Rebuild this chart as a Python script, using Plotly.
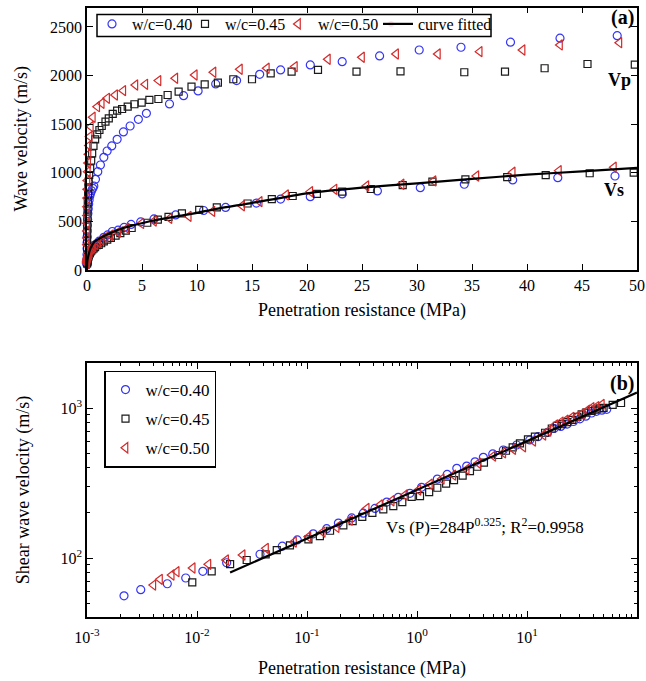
import plotly.graph_objects as go

# ---------------- data ----------------
# Shear wave velocity Vs vs penetration resistance P (MPa)
p40_vs = [0.00217, 0.00308, 0.00537, 0.0079, 0.0113, 0.0186, 0.0374, 0.0596, 0.0816, 0.114,
          0.151, 0.193, 0.255, 0.325, 0.415, 0.531, 0.676, 0.863, 1.10, 1.53, 1.88, 2.30, 2.83,
          3.37, 4.01, 4.88, 6.09, 8.06, 10.6, 12.6, 15.4, 17.6, 20.3, 23.2, 26.4, 30.3, 34.3,
          38.7, 42.8, 48.0, 53.1]
vs40 = [56, 61.5, 67.4, 73.6, 81.5, 93, 106, 120, 132, 145, 157, 171, 185, 199, 214, 236, 254,
        270, 296, 336, 361, 396, 410, 438, 469, 494, 525, 567, 612, 644, 688, 730, 754, 782, 813,
        847, 882, 926, 950, 967, 980]

p45_vs = [0.00906, 0.0136, 0.0200, 0.0283, 0.0421, 0.0531, 0.070, 0.103, 0.131, 0.162, 0.214,
          0.260, 0.318, 0.393, 0.494, 0.609, 0.735, 0.895, 1.065, 1.29, 1.53, 1.84, 2.17, 2.60,
          3.03, 3.53, 4.06, 5.48, 6.44, 7.41, 8.63, 10.2, 11.8, 14.6, 16.8, 18.7, 20.9, 23.2,
          25.8, 28.7, 31.4, 34.4, 38.2, 41.7, 45.7, 49.7, 60.1, 71.6]
vs45 = [68.9, 81.5, 91.2, 97.0, 105.9, 113, 121.6, 133, 140, 152, 165, 176, 188, 200, 211, 222,
        236, 256, 259, 275, 294, 313, 331, 354, 380, 406, 432, 486, 519, 547, 582, 618, 644, 684,
        730, 761, 782, 806, 833, 874, 908, 933, 955, 975, 995, 1001, 1050, 1080]

p50_vs = [0.00401, 0.00461, 0.00589, 0.00654, 0.00914, 0.0127, 0.0184, 0.026, 0.0424, 0.0762,
          0.103, 0.139, 0.186, 0.246, 0.349, 0.461, 0.589, 0.778, 1.03, 1.31, 1.68, 2.14, 2.83,
          3.61, 4.94, 6.09, 7.5, 9.25, 11.4, 14.1, 15.7, 18.1, 20.3, 22.5, 25.4, 28.6, 31.5,
          35.4, 38.7, 42.9, 47.9]
vs50 = [66, 72.1, 77.1, 81.1, 85.8, 90.8, 97.0, 104.7, 116, 128, 138.7, 149, 160, 179, 214, 226,
        241, 263, 284, 311, 336, 357, 390, 428, 479, 503, 531, 552, 603, 661, 703, 772, 806, 830,
        864, 882, 916, 967, 1005, 1022, 1057]

# Compression wave velocity Vp vs penetration resistance P (MPa)
p40_vp = [0.00217, 0.00308, 0.00537, 0.0079, 0.0113, 0.0186, 0.0374, 0.0596, 0.0816, 0.114,
          0.151, 0.193, 0.255, 0.325, 0.415, 0.531, 0.62, 0.77, 0.98, 1.22, 1.53, 1.83, 2.25,
          2.74, 3.31, 3.92, 4.67, 5.4, 7.5, 8.78, 10.1, 11.7, 13.6, 15.7, 17.6, 20.3, 23.2, 26.6,
          30.2, 34.0, 38.5, 43.0, 48.2]
vp40 = [110, 160, 220, 280, 340, 400, 460, 520, 580, 630, 680, 720, 760, 790, 815, 840, 864, 933,
        1011, 1080, 1159, 1224, 1276, 1344, 1420, 1481, 1550, 1612, 1708, 1793, 1842, 1914, 1948,
        2013, 2058, 2109, 2143, 2202, 2263, 2291, 2343, 2384, 2410]

p45_vp = [0.00906, 0.0136, 0.0200, 0.0283, 0.0421, 0.0531, 0.070, 0.103, 0.131, 0.15, 0.2, 0.29,
          0.38, 0.47, 0.59, 0.74, 0.93, 1.13, 1.34, 1.68, 1.98, 2.34, 2.74, 3.19, 3.7, 4.31, 4.97,
          5.67, 6.49, 7.33, 8.33, 9.5, 10.7, 11.9, 13.3, 15.0, 16.7, 18.6, 21.0, 24.5, 28.5, 34.3,
          38.0, 41.6, 45.5, 49.8]
vp45 = [230, 300, 380, 460, 540, 620, 700, 780, 850, 908, 977, 1046, 1124, 1200, 1276, 1344, 1396,
        1440, 1481, 1526, 1560, 1605, 1639, 1656, 1680, 1705, 1721, 1749, 1759, 1800, 1834, 1886,
        1910, 1927, 1962, 1962, 2023, 2040, 2058, 2040, 2044, 2034, 2040, 2075, 2119, 2112]

p50_vp = [0.00401, 0.00461, 0.00589, 0.00654, 0.00914, 0.0127, 0.0184, 0.026, 0.0424, 0.0762,
          0.103, 0.139, 0.186, 0.246, 0.349, 0.53, 0.93, 1.34, 1.83, 2.56, 3.3, 4.4, 5.3, 6.5,
          8.03, 9.8, 11.5, 13.9, 16.35, 18.9, 21.9, 25.0, 28.1, 31.9, 35.7, 39.6, 43.0, 48.4]
vp50 = [260, 330, 400, 480, 560, 650, 740, 830, 920, 1010, 1100, 1190, 1280, 1372, 1474, 1571,
        1680, 1715, 1766, 1800, 1845, 1903, 1910, 1948, 1972, 2006, 2034, 2065, 2075, 2092, 2168,
        2188, 2222, 2222, 2246, 2263, 2315, 2338]

# fitted curves
fit_a_p = [0, 0.02, 0.1, 0.32, 0.68, 1.59, 2.8, 4.31, 5.83, 7.64, 9.75, 11.9, 14.8, 20, 25, 30,
           35, 40, 45, 50]
fit_a_v = [0, 80, 135, 223, 291, 353, 412, 463, 504, 542, 583, 632, 686, 789, 847, 892, 938, 980,
           1015, 1050]
fit_b_p = [0.02, 100]
fit_b_v = [80, 1270]

labels = ["w/c=0.40", "w/c=0.45", "w/c=0.50"]
x_ticks_a = [0, 5, 10, 15, 20, 25, 30, 35, 40, 45, 50]
y_ticks_a = [0, 500, 1000, 1500, 2000, 2500]
x_ticks_b = [0.001, 0.01, 0.1, 1, 10, 100]
x_ticktext_b = ["10<sup>-3</sup>", "10<sup>-2</sup>", "10<sup>-1</sup>", "10<sup>0</sup>",
                "10<sup>1</sup>", "10<sup>2</sup>"]
y_ticks_b = [100, 1000]
y_ticktext_b = ["10<sup>2</sup>", "10<sup>3</sup>"]

# ---------------- styling ----------------
FONT = "Liberation Serif"
BLUE = "#3535f5"
BLACK = "#1a1a1a"
RED = "#d32a2a"
styles = [
    dict(symbol="circle-open", color=BLUE, size=8),
    dict(symbol="square-open", color=BLACK, size=7),
    dict(symbol="triangle-left-open", color=RED, size=9),
]

series = [
    (p40_vs, vs40, p40_vp, vp40),
    (p45_vs, vs45, p45_vp, vp45),
    (p50_vs, vs50, p50_vp, vp50),
]

fig = go.Figure()

for i, (pvs, vs, pvp, vp) in enumerate(series):
    st = styles[i]
    mk = dict(symbol=st["symbol"], size=st["size"], color=st["color"],
              line=dict(color=st["color"], width=1.2))
    ps = [p for p in pvs if p <= 50]
    vss = [v for p, v in zip(pvs, vs) if p <= 50]
    fig.add_trace(go.Scatter(x=pvp, y=vp, mode="markers", marker=mk, name=labels[i],
                             legendgroup=labels[i], showlegend=False, cliponaxis=False,
                             xaxis="x", yaxis="y"))
    fig.add_trace(go.Scatter(x=ps, y=vss, mode="markers", marker=mk, name=labels[i],
                             legendgroup=labels[i], showlegend=True, legend="legend",
                             cliponaxis=False, xaxis="x", yaxis="y"))

# invisible spacer entry so the third legend label is not clipped
fig.add_trace(go.Scatter(x=[None], y=[None], mode="markers", name=" ",
                         marker=dict(opacity=0), legend="legend", showlegend=True,
                         hoverinfo="skip", xaxis="x", yaxis="y"))

fig.add_trace(go.Scatter(x=fit_a_p, y=fit_a_v, mode="lines", name="curve fitted",
                         line=dict(color="black", width=2.2, shape="spline", smoothing=0.6),
                         legend="legend3", xaxis="x", yaxis="y"))

for i, (pvs, vs, pvp, vp) in enumerate(series):
    st = styles[i]
    mk = dict(symbol=st["symbol"], size=st["size"], color=st["color"],
              line=dict(color=st["color"], width=1.2))
    fig.add_trace(go.Scatter(x=pvs, y=vs, mode="markers", marker=mk, name=labels[i],
                             legend="legend2", legendgroup="b" + labels[i],
                             xaxis="x2", yaxis="y2"))

fig.add_trace(go.Scatter(x=fit_b_p, y=fit_b_v, mode="lines", name="fit",
                         line=dict(color="black", width=2.2), showlegend=False,
                         xaxis="x2", yaxis="y2"))

W, H = 646, 681
def px(xp):
    return xp / W
def py(yp):
    return 1 - yp / H

axis_common = dict(showline=True, linecolor="black", linewidth=1.5, mirror="allticks",
                   ticks="inside", tickcolor="black", ticklen=6, tickwidth=1,
                   showgrid=False, zeroline=False, automargin=False,
                   tickfont=dict(family=FONT, size=16, color="black"),
                   title_font=dict(family=FONT, size=18, color="black"))

def ann(text, x, y, size):
    return dict(text=text, x=px(x), y=py(y), xref="paper", yref="paper",
                xanchor="center", yanchor="middle", showarrow=False,
                font=dict(family=FONT, size=size, color="black"))

fig.update_layout(
    width=W, height=H,
    margin=dict(l=0, r=0, t=0, b=0),
    paper_bgcolor="white", plot_bgcolor="white",
    font=dict(family=FONT, size=16, color="black"),
    xaxis=dict(domain=[px(87), px(637)], range=[0, 50], tickvals=x_ticks_a,
               title=dict(text="Penetration resistance (MPa)", standoff=10),
               anchor="y", **axis_common),
    yaxis=dict(domain=[py(270), py(7.5)], range=[0, 2700], tickvals=y_ticks_a,
               title=dict(text="Wave velocity (m/s)", standoff=18),
               anchor="x", **axis_common),
    xaxis2=dict(domain=[px(87), px(637)], type="log", range=[-3, 2], tickvals=x_ticks_b,
                ticktext=x_ticktext_b, ticklabelstandoff=5,
                minor=dict(dtick="D1", ticks="inside", ticklen=3, tickcolor="black"),
                title=dict(text="Penetration resistance (MPa)", standoff=16),
                anchor="y2", **axis_common),
    yaxis2=dict(domain=[py(617), py(363)], type="log", range=[1.607, 3.3], tickvals=y_ticks_b,
                ticktext=y_ticktext_b,
                minor=dict(dtick="D1", ticks="inside", ticklen=3, tickcolor="black"),
                title=dict(text="Shear wave velocity (m/s)", standoff=26),
                anchor="x2", **axis_common),
    legend=dict(orientation="h", x=px(92), y=py(7), xanchor="left", yanchor="top",
                borderwidth=0, bgcolor="rgba(0,0,0,0)",
                font=dict(family=FONT, size=16), itemwidth=30,
                entrywidth=48, entrywidthmode="pixels",
                traceorder="normal"),
    legend3=dict(orientation="h", x=px(378), y=py(7), xanchor="left", yanchor="top",
                 borderwidth=0, bgcolor="rgba(0,0,0,0)",
                 font=dict(family=FONT, size=16), itemwidth=30),
    legend2=dict(orientation="v", x=px(104), y=py(370.5), xanchor="left", yanchor="top",
                 bordercolor="black", borderwidth=1.5, bgcolor="white",
                 font=dict(family=FONT, size=17), itemwidth=30, tracegroupgap=4,
                 traceorder="grouped"),
    shapes=[
        dict(type="rect", xref="paper", yref="paper", x0=px(97), x1=px(491),
             y0=py(36.5), y1=py(14.6), line=dict(color="black", width=1.5),
             fillcolor="rgba(0,0,0,0)", layer="above"),
    ],
    annotations=[
        ann("<b>(a)</b>", 622, 18, 20),
        ann("<b>Vp</b>", 619, 80, 18),
        ann("<b>Vs</b>", 614, 190, 18),
        ann("<b>(b)</b>", 622, 383, 20),
        ann("Vs (P)=284P<sup>0.325</sup>; R<sup>2</sup>=0.9958", 485, 526, 17),
    ],
)

fig.write_html("out.html")
